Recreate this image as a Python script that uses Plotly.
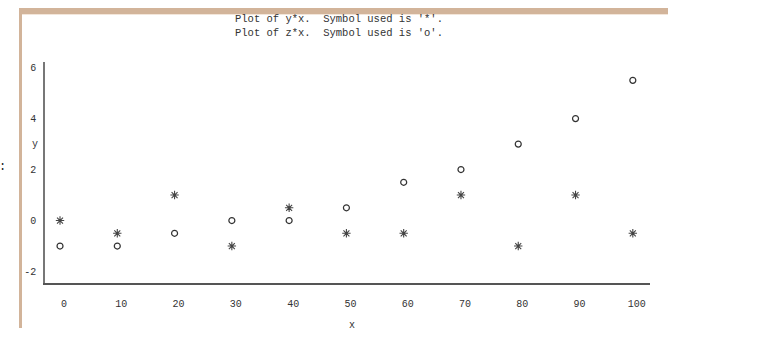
import plotly.graph_objects as go

W, H = 763, 353

x_vals = [0, 10, 20, 30, 40, 50, 60, 70, 80, 90, 100]
y_vals = [0, -0.5, 1, -1, 0.5, -0.5, -0.5, 1, -1, 1, -0.5]
z_vals = [-1, -1, -0.5, 0, 0, 0.5, 1.5, 2, 3, 4, 5.5]
x_ticks = [0, 10, 20, 30, 40, 50, 60, 70, 80, 90, 100]
y_ticks = [-2, 0, 2, 4, 6]
title_lines = ["Plot of y*x.  Symbol used is '*'.", "Plot of z*x.  Symbol used is 'o'."]

FONT = "Liberation Mono"
TXT = "#333333"
TAN = "#D2B49A"


def px(x):
    return x / W


def py(y):
    return 1 - y / H


fig = go.Figure()
fig.add_trace(go.Scatter(
    x=x_vals, y=y_vals, mode="markers", name="y",
    marker=dict(symbol="asterisk-open", size=7, color="#444444",
                line=dict(color="#444444", width=1.1)),
    cliponaxis=False,
))
fig.add_trace(go.Scatter(
    x=x_vals, y=z_vals, mode="markers", name="z",
    marker=dict(symbol="circle-open", size=6, color="#333333",
                line=dict(color="#333333", width=1.2)),
    cliponaxis=False,
))

fig.update_layout(
    width=W, height=H,
    margin=dict(l=0, r=0, t=0, b=0),
    paper_bgcolor="white", plot_bgcolor="white",
    showlegend=False,
    font=dict(family=FONT, size=10, color=TXT),
    xaxis=dict(
        domain=[px(45), px(650)],
        range=[-2.62, 103.0],
        tickvals=x_ticks,
        ticktext=[str(v) for v in x_ticks],
        showgrid=False, zeroline=False,
        showline=True, linecolor="#555555", linewidth=1.5,
        ticks="", ticklabelstandoff=10, ticklabelshift=4,
        tickfont=dict(family=FONT, size=10, color=TXT),
    ),
    yaxis=dict(
        domain=[py(283), py(62)],
        range=[-2.45, 6.22],
        tickvals=y_ticks,
        ticktext=[str(v) for v in y_ticks],
        showgrid=False, zeroline=False,
        showline=True, linecolor="#777777", linewidth=1.5,
        ticks="", ticklabelstandoff=5,
        tickfont=dict(family=FONT, size=10, color=TXT),
    ),
)

# decorative frame (tan window border)
fig.add_shape(type="rect", xref="paper", yref="paper",
              x0=px(19), x1=px(668), y0=py(14), y1=py(8),
              fillcolor=TAN, line=dict(width=0), layer="above")
fig.add_shape(type="rect", xref="paper", yref="paper",
              x0=px(19), x1=px(668), y0=py(15), y1=py(14),
              fillcolor="#F3E6DA", line=dict(width=0), layer="above")
fig.add_shape(type="rect", xref="paper", yref="paper",
              x0=px(19), x1=px(22), y0=py(328), y1=py(8),
              fillcolor=TAN, line=dict(width=0), layer="above")

# title (two lines in one text block)
fig.add_annotation(text="<br>".join(title_lines), xref="paper", yref="paper",
                   x=px(233), y=py(26), xanchor="left", yanchor="middle", align="left",
                   showarrow=False, font=dict(family=FONT, size=10.5, color=TXT))

# axis labels
fig.add_annotation(text="y", xref="paper", yref="y", x=px(35), y=3,
                   xanchor="center", yanchor="middle", showarrow=False,
                   font=dict(family=FONT, size=10, color=TXT))
fig.add_annotation(text="x", xref="paper", yref="paper", x=px(352), y=py(325),
                   xanchor="center", yanchor="middle", showarrow=False,
                   font=dict(family=FONT, size=10, color=TXT))
fig.add_annotation(text=":", xref="paper", yref="paper", x=px(2), y=py(167),
                   xanchor="center", yanchor="middle", showarrow=False,
                   font=dict(family=FONT, size=12, color="#222222"))

fig.write_html("out.html")
